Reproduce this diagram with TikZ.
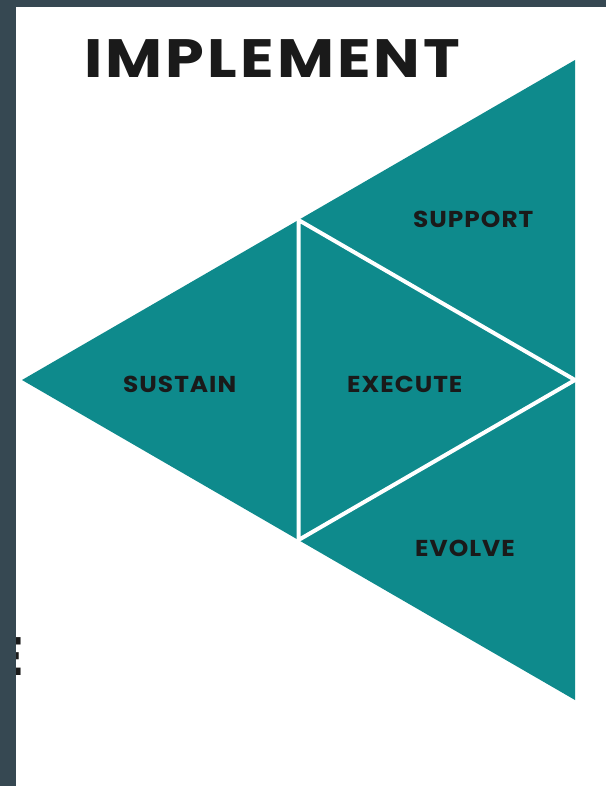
\documentclass[tikz,border=0pt]{standalone}
\usepackage{fontspec}
\setmainfont{Poppins}
\usetikzlibrary{calc}
\definecolor{teal0}{HTML}{0E8A8C}
\definecolor{slate}{HTML}{364852}
\definecolor{ink}{HTML}{1A1A1A}
\begin{document}
\begin{tikzpicture}[x=1pt,y=-1pt,
  lbl/.style={font=\fontsize{23}{23}\selectfont\bfseries\addfontfeature{LetterSpace=4}, text=ink, inner sep=0pt, anchor=west, xscale=1.08},
  ttl/.style={font=\fontsize{54}{54}\selectfont\bfseries\addfontfeature{LetterSpace=5}, text=ink, inner sep=0pt, xscale=1.15},
  sep/.style={draw=white, line width=4pt}]
\useasboundingbox (0,0) rectangle (606,786);
\fill[white] (0,0) rectangle (606,786);
% big triangle
\coordinate (L) at (22,380);
\coordinate (T) at (575,60);
\coordinate (B) at (575,700);
\fill[teal0] (L) -- (T) -- (B) -- cycle;
\coordinate (m1) at ($ (L)!0.5!(T) $);
\coordinate (m2) at ($ (L)!0.5!(B) $);
\coordinate (m3) at ($ (T)!0.5!(B) $);
\draw[sep] (m1) -- (m2) -- (m3) -- cycle;
\node[lbl] (support) at (413,219) {SUPPORT};
\node[lbl] (execute) at (347,384) {EXECUTE};
\node[lbl] (sustain) at (123,384) {SUSTAIN};
\node[lbl] (evolve) at (415,548) {EVOLVE};
\node[ttl, anchor=base west] (title) at (84,78) {IMPLEMENT};
\node[ttl, anchor=base east] (frag) at (24,675) {E};
% border
\fill[slate] (0,0) rectangle (16,786);
\fill[slate] (0,0) rectangle (606,7);
\end{tikzpicture}
\end{document}
